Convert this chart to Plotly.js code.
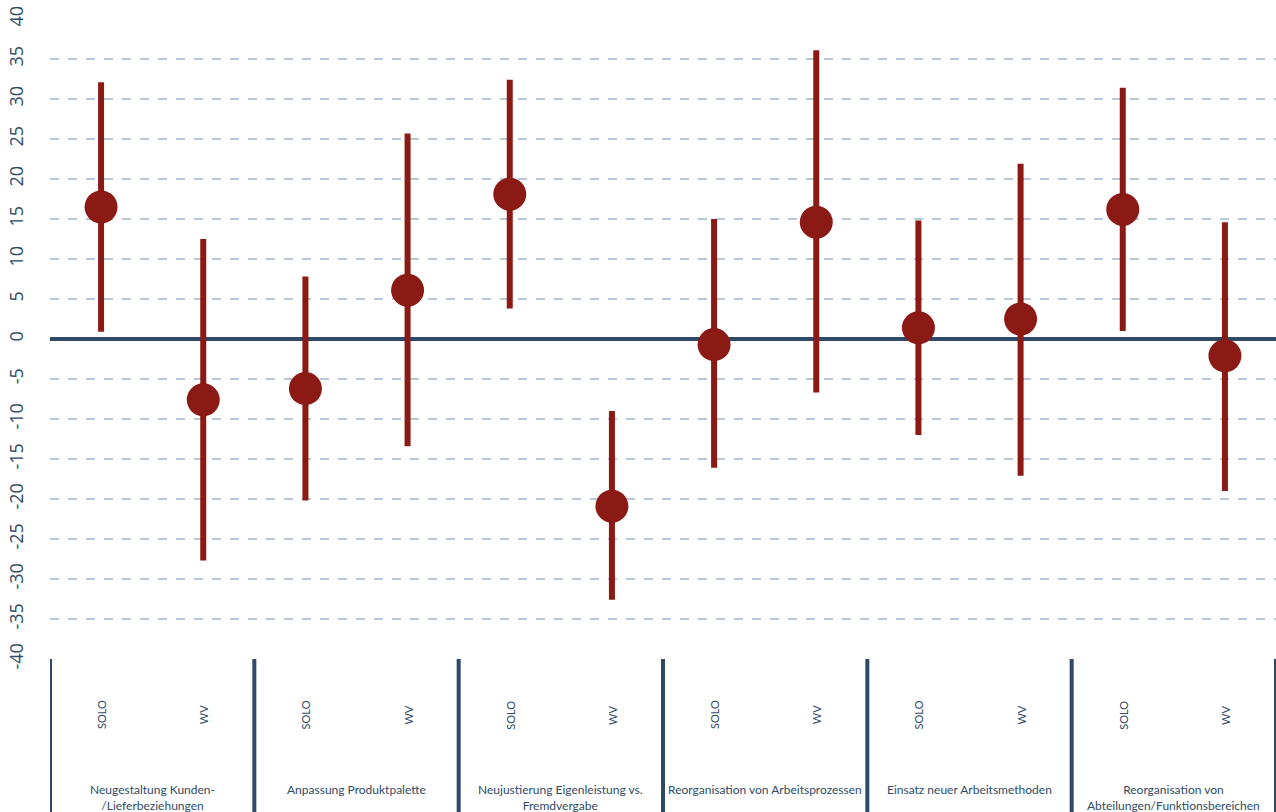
<!DOCTYPE html>
<html>
<head>
<meta charset="utf-8">
<script src="https://cdn.plot.ly/plotly-3.0.1.min.js"></script>
<style>html,body{margin:0;padding:0;background:#fff;}#chart{width:1276px;height:812px;}</style>
</head>
<body>
<div id="chart"></div>
<script>
const groups = ["Neugestaltung Kunden-<br>/Lieferbeziehungen", "Anpassung Produktpalette", "Neujustierung Eigenleistung vs.<br>Fremdvergabe", "Reorganisation von Arbeitsprozessen", "Einsatz neuer Arbeitsmethoden", "Reorganisation von<br>Abteilungen/Funktionsbereichen"];
const subs = ["SOLO", "WV"];
const values = [16.5, -7.6, -6.2, 6.1, 18.1, -20.9, -0.7, 14.6, 1.4, 2.5, 16.2, -2.1];
const upper  = [32.1, 12.5, 7.8, 25.7, 32.4, -9.0, 15.0, 36.1, 14.8, 21.9, 31.4, 14.6];
const lower  = [0.9, -27.7, -20.2, -13.4, 3.8, -32.6, -16.1, -6.7, -12.0, -17.1, 1.0, -19.0];
const yTickVals = [-40, -35, -30, -25, -20, -15, -10, -5, 0, 5, 10, 15, 20, 25, 30, 35, 40];
const yTickText = ["-40", "-35", "-30", "-25", "-20", "-15", "-10", "-5", "0", "5", "10", "15", "20", "25", "30", "35", "40"];

const cats = [];
groups.forEach((g, gi) => subs.forEach(s => cats.push(gi + "|" + s)));
const plus = values.map((v, i) => upper[i] - v);
const minus = values.map((v, i) => v - lower[i]);

const txtColor = "#2f4a66";
const trace = {
  type: "scatter", mode: "markers", x: cats, y: values,
  marker: {color: "#8b1a14", size: 33},
  error_y: {type: "data", symmetric: false, array: plus, arrayminus: minus, color: "#8b1a14", thickness: 6, width: 0},
  hoverinfo: "y"
};

const bottomPx = 153, plotH = 640;
const annotations = [];
const shapes = [];
cats.forEach((c, i) => {
  annotations.push({x: c, xref: "x", yref: "paper", y: -(715 - 659) / plotH, text: subs[i % 2], textangle: -90,
    showarrow: false, font: {family: "Lato, sans-serif", size: 11, color: txtColor}, xanchor: "center", yanchor: "middle"});
});
groups.forEach((g, gi) => {
  annotations.push({x: gi * 2 + 0.5, xref: "x", yref: "paper", y: -(780 - 659) / plotH, text: g, showarrow: false,
    font: {family: "Lato, sans-serif", size: 12, color: txtColor}, xanchor: "center", yanchor: "top"});
});
for (let k = 0; k <= groups.length; k++) {
  shapes.push({type: "line", xref: "x", yref: "paper", x0: k * 2 - 0.5, x1: k * 2 - 0.5, y0: 0, y1: -bottomPx / plotH,
    line: {color: "#2f4a66", width: 4}});
}

const layout = {
  width: 1276, height: 812,
  margin: {l: 50, r: 0, t: 19, b: bottomPx},
  paper_bgcolor: "#fff", plot_bgcolor: "#fff",
  showlegend: false,
  xaxis: {type: "category", range: [-0.5, 11.5], showticklabels: false, showgrid: false, zeroline: false, ticks: ""},
  yaxis: {range: [-40, 40], tickmode: "array", tickvals: yTickVals, ticktext: yTickText, tickangle: -90,
    showgrid: true, gridcolor: "#b9c8d6", griddash: "dash", gridwidth: 1.5,
    zeroline: true, zerolinecolor: "#2f4a66", zerolinewidth: 4, showline: false, ticks: "", ticklabelstandoff: 22,
    tickfont: {family: "Open Sans, sans-serif", size: 18, color: txtColor}},
  annotations: annotations, shapes: shapes
};
Plotly.newPlot("chart", [trace], layout, {displayModeBar: false});
</script>
</body>
</html>
